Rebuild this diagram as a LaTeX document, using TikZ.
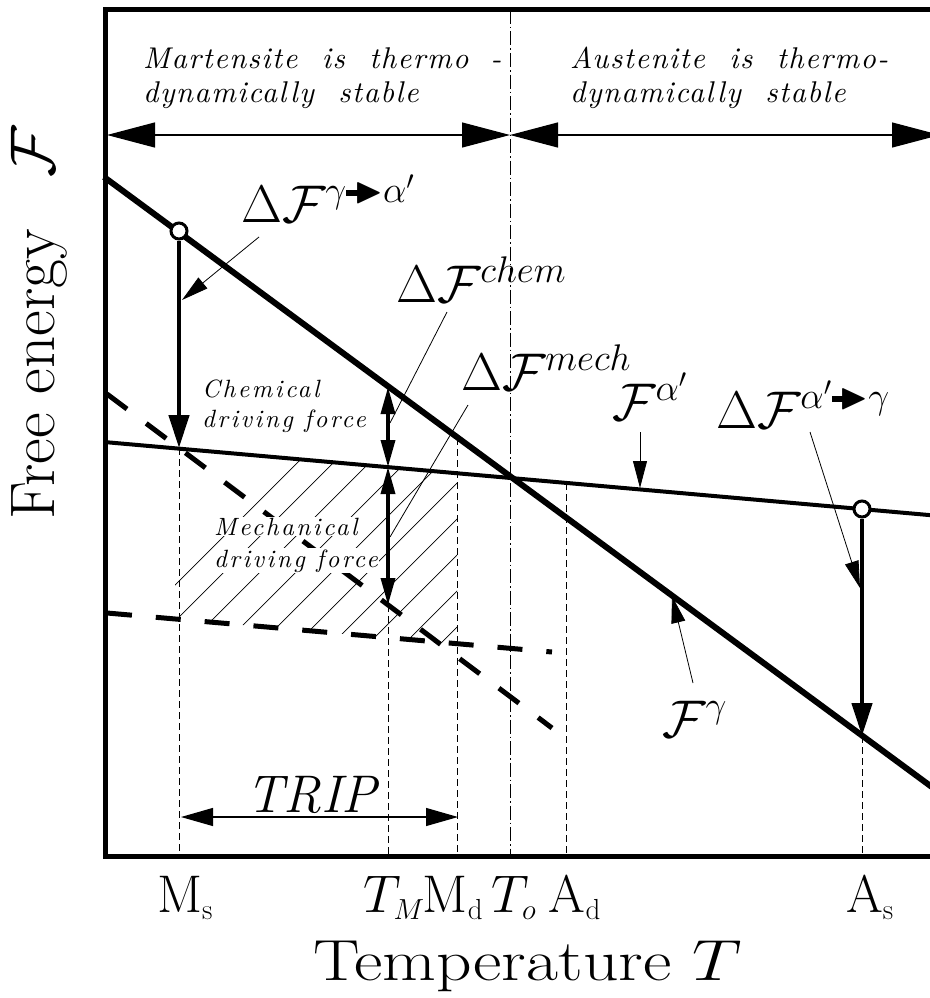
\documentclass[tikz,border=0pt]{standalone}
\usepackage{fix-cm}
\usepackage{amsmath,amssymb}
\usepackage{fontspec}
\usetikzlibrary{arrows.meta}
\newfontfamily\lsit[LetterSpace=10]{lmroman10-italic.otf}
\newfontfamily\tpit[LetterSpace=5]{lmroman10-italic.otf}
\newcommand{\thar}{\mathrel{\text{\rule[0.17em]{0.38em}{0.17em}}\mkern-3mu\blacktriangleright}}
\newcommand{\subsz}[1]{\text{\fontsize{29}{32}\selectfont #1}}
\begin{document}
\begin{tikzpicture}[x=1pt,y=-1pt,
  frame/.style={line width=5pt},
  gline/.style={line width=6pt},
  aline/.style={line width=4pt},
  dline/.style={line width=5pt, dash pattern=on 25pt off 24pt},
  vdash/.style={line width=0.9pt, dash pattern=on 7pt off 4pt},
  toline/.style={line width=1pt, dash pattern=on 14pt off 3pt on 1.5pt off 3pt},
  hatch/.style={line width=0.7pt},
  toparr/.style={line width=1.2pt, {Triangle[length=48pt,width=25pt]}-{Triangle[length=48pt,width=25pt]}},
  triparr/.style={line width=1.2pt, {Triangle[length=32pt,width=18pt]}-{Triangle[length=32pt,width=18pt]}},
  thickarr/.style={line width=4.5pt, -{Triangle[length=33pt,width=20pt]}},
  dblarr/.style={line width=3.5pt, {Triangle[length=27pt,width=14pt]}-{Triangle[length=27pt,width=14pt]}},
  leader/.style={line width=0.8pt},
  leadarr/.style={line width=0.8pt, -{Triangle[length=27pt,width=14pt]}},
  circ/.style={circle, draw, fill=white, line width=3pt, minimum size=16pt, inner sep=0pt},
  toptext/.style={font=\fontsize{30}{36}\selectfont\tpit, inner sep=0pt, anchor=base west},
  smalltext/.style={font=\fontsize{25}{30}\selectfont\lsit, inner sep=0pt, anchor=base west},
  mathlab/.style={font=\fontsize{53}{60}\selectfont, inner sep=0pt, anchor=base west},
  ticklab/.style={font=\fontsize{53}{60}\selectfont, inner sep=0pt, anchor=base},
  axislab/.style={font=\fontsize{58}{68}\selectfont, inner sep=0pt, anchor=base west}
]
\useasboundingbox (0,0) rectangle (929,998);

% ---------- key coordinates ----------
\coordinate (gL) at (104,177);   \coordinate (gR) at (940,793);
\coordinate (aL) at (104,442);   \coordinate (aR) at (940,516);
\coordinate (d1L) at (107,394);  \coordinate (d1R) at (552,728);
\coordinate (d2L) at (107,613);  \coordinate (d2R) at (552,652);

% ---------- hatch ----------
\begin{scope}
  \clip (175,450) -- (457,475) -- (457,644) -- (175,619) -- cycle;
  \foreach \c in {760,796,...,1140}{
    \draw[hatch] (\c-700,700) -- (\c-350,350);
  }
\end{scope}

% ---------- thin vertical dashed lines ----------
\coordinate (msA) at (179,448); \coordinate (msB) at (179,856);
\coordinate (tmG) at (388,387); \coordinate (tmA) at (388,467);
\coordinate (tmD) at (388,605); \coordinate (tmB) at (388,856);
\coordinate (mdG) at (457,438); \coordinate (mdB) at (457,856);
\coordinate (adA) at (566,483); \coordinate (adB) at (566,856);
\coordinate (asG) at (862,736); \coordinate (asB) at (862,856);
\coordinate (toT) at (510,10);  \coordinate (toB) at (510,856);
\draw[vdash] (msA) -- (msB);
\draw[vdash] (tmD) -- (tmB);
\draw[vdash] (mdG) -- (mdB);
\draw[vdash] (adA) -- (adB);
\draw[vdash] (asG) -- (asB);
\draw[toline] (toT) -- (toB);

% ---------- dashed free-energy lines ----------
\draw[dline] (d1L) -- (d1R);
\draw[dline] (d2L) -- (d2R);

% ---------- main lines ----------
\draw[gline] (gL) -- (gR);
\draw[aline] (aL) -- (aR);

% ---------- frame ----------
\coordinate (fTR) at (940,9.5); \coordinate (fTL) at (105,9.5);
\coordinate (fBL) at (105,856); \coordinate (fBR) at (940,856);
\draw[frame] (fTR) -- (fTL) -- (fBL) -- (fBR);

% ---------- top region arrows ----------
\coordinate (tL) at (107,135); \coordinate (tM) at (510,135); \coordinate (tR) at (940,135);
\draw[toparr] (tL) -- (tM);
\draw[toparr] (tM) -- (tR);

\node[toptext] (mart1) at (143,69) {Martensite\ \ is\ \ thermo\hspace{22pt}-};
\node[toptext] (mart2) at (143,102) {dynamically\ \ stable};
\node[toptext] (aust1) at (570,69) {Austenite\ \ is\ \ thermo-};
\node[toptext] (aust2) at (570,102) {dynamically\ \ stable};

% ---------- transformation arrows ----------
\node[circ] (c1) at (179,231) {};
\node[circ] (c2) at (862,509) {};
\draw[thickarr] (c1) -- (msA);
\draw[thickarr] (c2) -- (asG);
\draw[dblarr] (tmG) -- (tmA);
\draw[dblarr] (tmA) -- (tmD);

% ---------- TRIP ----------
\coordinate (trL) at (181,817); \coordinate (trR) at (458,817);
\draw[triparr] (trL) -- (trR);
\node[font=\fontsize{53}{60}\selectfont\itshape, inner sep=0pt, anchor=base west] (trip) at (246,812) {TRIP};

% ---------- driving force labels ----------
\node[smalltext] (chem1) at (202,397) {Chemical};
\node[smalltext] (chem2) at (202,427) {driving\ force};
\node[smalltext, fill=white, inner sep=1pt] (mech1) at (213,535) {Mechanical};
\node[smalltext, fill=white, inner sep=1pt] (mech2) at (213,567) {driving\ force};

% ---------- math labels ----------
\node[mathlab] (dFga) at (241,222) {$\Delta\mathcal{F}^{\gamma\thar\alpha'}$};
\node[mathlab] (dFch) at (396,302) {$\Delta\mathcal{F}^{chem}$};
\node[mathlab] (dFme) at (461,390) {$\Delta\mathcal{F}^{mech}$};
\node[mathlab] (Fa) at (612,420) {$\mathcal{F}^{\alpha'}$};
\node[mathlab] (dFag) at (716,428) {$\Delta\mathcal{F}^{\alpha'\thar\gamma}$};
\node[mathlab] (Fg) at (662,737) {$\mathcal{F}^{\gamma}$};

% ---------- leaders ----------
\coordinate (l1s) at (259,237); \coordinate (l1e) at (182,300);
\coordinate (l2s) at (447,312); \coordinate (l2e) at (390,423);
\coordinate (l3s) at (468,405); \coordinate (l3e) at (390,537);
\coordinate (l4s) at (640,432); \coordinate (l4e) at (640,488);
\coordinate (l5s) at (810,432); \coordinate (l5e) at (860,588);
\coordinate (l6s) at (693,683); \coordinate (l6e) at (672,596);
\draw[leadarr] (l1s) -- (l1e);
\draw[leader] (l2s) -- (l2e);
\draw[leader] (l3s) -- (l3e);
\draw[leadarr] (l4s) -- (l4e);
\draw[leadarr] (l5s) -- (l5e);
\draw[leadarr] (l6s) -- (l6e);

% ---------- axis tick labels ----------
\node[ticklab] (Ms) at (185,912) {M$_{\subsz{s}}$};
\node[ticklab] (TM) at (394,912) {$T_{\subsz{$M$}}$};
\node[ticklab] (Md) at (453,912) {M$_{\subsz{d}}$};
\node[ticklab] (To) at (514,912) {$T_{\subsz{$o$}}$};
\node[ticklab] (Ad) at (575,912) {A$_{\subsz{d}}$};
\node[ticklab] (As) at (870,912) {A$_{\subsz{s}}$};

% ---------- axis titles ----------
\node[axislab] (xlab) at (313,980) {\scalebox{1.2}[1]{Temperature $T$}};
\node[axislab, font=\fontsize{63}{70}\selectfont, rotate=90] (ylab) at (54,520) {Free energy\hspace{52pt}$\mathcal{F}$};
\end{tikzpicture}
\end{document}
